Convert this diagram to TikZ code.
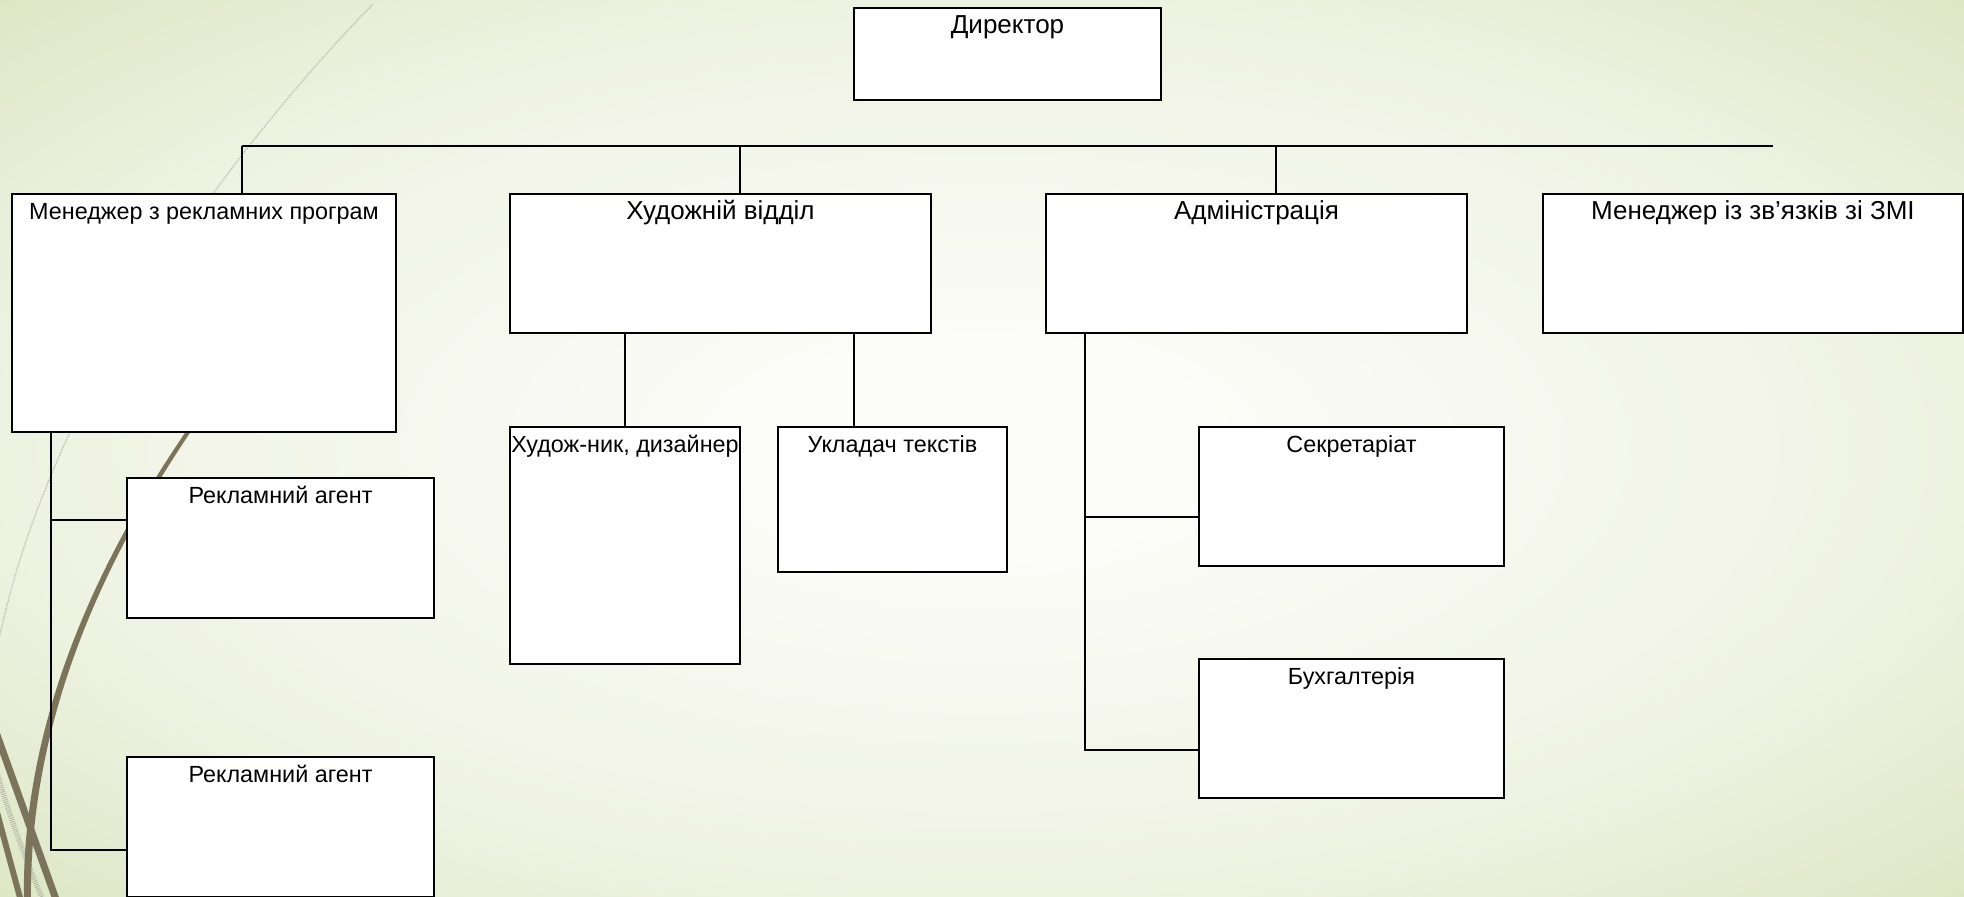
\documentclass[tikz,border=0pt]{standalone}
\usepackage{fontspec}
\setmainfont{Liberation Sans}
\definecolor{bgin}{RGB}{252,252,248}
\definecolor{bgmid}{RGB}{238,242,225}
\definecolor{bgout}{RGB}{220,230,195}
\definecolor{wispbrown}{RGB}{123,116,90}
\definecolor{wispgray}{RGB}{180,180,165}
\pgfdeclareradialshading{slideglow}{\pgfpoint{0bp}{0bp}}{color(0bp)=(bgin); color(6bp)=(bgin); color(25bp)=(bgmid); color(36bp)=(bgout); color(50bp)=(bgout)}
\newcommand{\bigtxt}{\fontsize{14.8}{17}\selectfont}
\newcommand{\smltxt}{\fontsize{13.3}{15}\selectfont}
\tikzstyle{unit}=[
	draw=black,
	fill=white,
	line width=0.9pt,
	anchor=north west,
	inner sep=0pt,
	outer sep=0pt
]
\tikzstyle{title}=[anchor=north, inner sep=4.5pt, yshift=-2.2pt, text height=0.75em, text depth=0.25em]
\tikzstyle{link} = [draw,line width=1.1pt]
\tikzstyle{dotwisp} = [wispgray,dash pattern=on 0.5pt off 0.7pt]
\begin{document}
\begin{tikzpicture}[x=0.2mm,y=-0.2mm]

				\useasboundingbox (0,0) rectangle (1964,896);
				\clip (0,0) rectangle (1964,896);
				\shade[shading=slideglow] (0,0) rectangle (1964,896);

				% wisp decoration, lower left
				\draw[dotwisp, line width=0.8pt] (372,5) .. controls (250,130) and (45,385) .. (-5,660);
				\draw[dotwisp, line width=3pt] (-5,765) .. controls (10,820) and (30,870) .. (45,905);
				\fill[wispbrown] (232,368) .. controls (100,540) and (20,720) .. (24,905) -- (31,905) .. controls (28,720) and (104,543) .. (235,370) -- cycle;
				\draw[wispbrown, line width=4pt] (-8,721) -- (58,905);
				\draw[wispbrown, line width=3.4pt] (-5,805) -- (22,905);

				\node[unit, minimum width=61.4mm, minimum height=18.4mm, label={[title,font=\bigtxt]north:Директор}] (dir) at (854,8) {};
				\node[unit, minimum width=76.8mm, minimum height=47.6mm, label={[title,font=\smltxt]north:Менеджер з рекламних програм}] (mgr) at (12,194) {};
				\node[unit, minimum width=84.2mm, minimum height=27.8mm, label={[title,font=\bigtxt]north:Художній відділ}] (art) at (510,194) {};
				\node[unit, minimum width=84.2mm, minimum height=27.8mm, label={[title,font=\bigtxt]north:Адміністрація}] (adm) at (1046,194) {};
				\node[unit, minimum width=84mm, minimum height=27.8mm, label={[title,font=\bigtxt]north:Менеджер із зв’язків зі ЗМІ}] (zmi) at (1543,194) {};

				\node[unit, minimum width=61.4mm, minimum height=28mm, label={[title,font=\smltxt]north:Рекламний агент}] (ag1) at (127,478) {};
				\node[unit, minimum width=61.4mm, minimum height=28mm, label={[title,font=\smltxt]north:Рекламний агент}] (ag2) at (127,757) {};
				\node[unit, minimum width=46mm, minimum height=47.4mm, label={[title,font=\smltxt]north:Худож-ник, дизайнер}] (dsg) at (510,427) {};
				\node[unit, minimum width=45.8mm, minimum height=29mm, label={[title,font=\smltxt]north:Укладач текстів}] (typ) at (778,427) {};
				\node[unit, minimum width=61mm, minimum height=27.8mm, label={[title,font=\smltxt]north:Секретаріат}] (sec) at (1199,427) {};
				\node[unit, minimum width=61mm, minimum height=27.8mm, label={[title,font=\smltxt]north:Бухгалтерія}] (acc) at (1199,659) {};

				\coordinate (b1) at (242,146);
				\coordinate (b2) at (740,146);
				\coordinate (b3) at (1276,146);
				\coordinate (bend) at (1773,146);
				\coordinate (mv) at (51,850);
				\coordinate (m1) at (51,520);
				\coordinate (av) at (1085,750);
				\coordinate (a1) at (1085,517);
				\coordinate (t1) at (854,427);

				\path[link]
				(b1) edge (bend)
				(b1) edge (b1 |- mgr.north)
				(b2) edge (b2 |- art.north)
				(b3) edge (b3 |- adm.north)
				(dsg.north) edge (dsg.north |- art.south)
				(t1) edge (t1 |- art.south)
				(m1) edge (m1 -| ag1.west)
				(a1) edge (a1 -| sec.west);

				\draw[link] (mgr.south -| mv) |- (ag2.west |- mv);
				\draw[link] (adm.south -| av) |- (acc.west |- av);

			\end{tikzpicture}
\end{document}
